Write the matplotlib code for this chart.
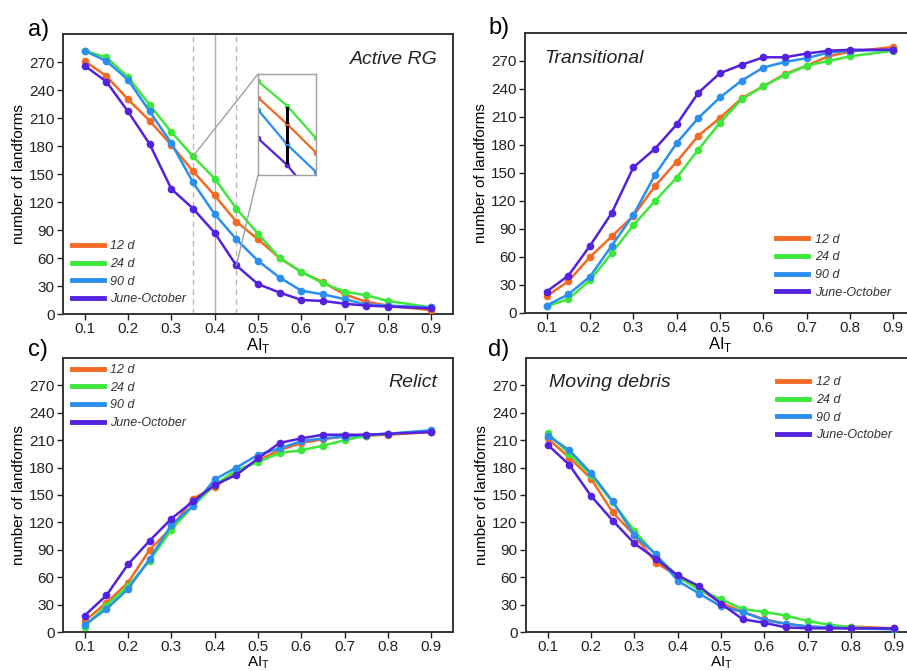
import numpy as np
import matplotlib
matplotlib.use("Agg")
import matplotlib.pyplot as plt
from matplotlib.patches import ConnectionPatch

plt.rcParams['font.family'] = ['Liberation Sans', 'DejaVu Sans']

# AI_T thresholds
ai_t = [0.1, 0.15, 0.2, 0.25, 0.3, 0.35, 0.4, 0.45, 0.5, 0.55, 0.6, 0.65, 0.7, 0.75, 0.8, 0.9]
series_names = ['12 d', '24 d', '90 d', 'June-October']
colors = ['#f26a24', '#3ee83a', '#2b8ff0', '#5322e0']

# a) Active RG
active_12 = [271, 255, 230, 207, 181, 153, 127, 99, 80, 60, 45, 34, 21, 13, 9, 4]
active_24 = [282, 275, 254, 224, 195, 169, 145, 113, 86, 60, 45, 33, 24, 20, 14, 7]
active_90 = [282, 271, 251, 217, 183, 141, 107, 80, 57, 39, 25, 21, 16, 10, 9, 7]
active_jo = [266, 249, 217, 182, 134, 113, 87, 52, 32, 23, 15, 14, 11, 9, 8, 6]

# b) Transitional
trans_12 = [18, 34, 60, 82, 104, 136, 162, 190, 209, 230, 243, 256, 265, 275, 280, 285]
trans_24 = [7, 15, 35, 64, 94, 120, 145, 175, 204, 229, 243, 255, 265, 270, 275, 281]
trans_90 = [8, 20, 39, 72, 105, 148, 182, 209, 231, 249, 263, 269, 273, 279, 281, 282]
trans_jo = [23, 40, 72, 107, 156, 176, 202, 236, 257, 266, 274, 274, 278, 281, 282, 282]

# c) Relict
relict_12 = [12, 32, 54, 90, 114, 146, 159, 175, 188, 199, 207, 211, 214, 215, 216, 219]
relict_24 = [6, 29, 50, 78, 112, 138, 161, 177, 186, 196, 199, 204, 210, 215, 217, 220]
relict_90 = [8, 25, 47, 80, 117, 138, 167, 180, 194, 201, 209, 212, 214, 216, 217, 221]
relict_jo = [18, 40, 74, 100, 124, 143, 161, 172, 190, 207, 212, 216, 216, 216, 217, 219]

# d) Moving debris
debris_12 = [212, 191, 168, 131, 106, 76, 61, 47, 32, 22, 14, 9, 6, 5, 6, 4]
debris_24 = [218, 195, 172, 142, 111, 84, 61, 46, 36, 25, 22, 18, 12, 8, 5, 3]
debris_90 = [215, 199, 174, 143, 106, 85, 56, 42, 28, 22, 13, 9, 6, 5, 4, 3]
debris_jo = [205, 183, 149, 122, 97, 80, 62, 50, 31, 14, 10, 5, 4, 4, 4, 4]

panels = [
    ('a)', 'Active RG', [active_12, active_24, active_90, active_jo]),
    ('b)', 'Transitional', [trans_12, trans_24, trans_90, trans_jo]),
    ('c)', 'Relict', [relict_12, relict_24, relict_90, relict_jo]),
    ('d)', 'Moving debris', [debris_12, debris_24, debris_90, debris_jo]),
]

W, H = 907, 671
fig = plt.figure(figsize=(W / 100, H / 100), dpi=100)

# axes boxes in pixels: left, top, right, bottom
boxes = [(63, 34, 453, 314), (525, 33, 915, 313), (63, 358, 453, 632), (526, 358, 916, 632)]

# where the title and legend go for each panel
title_pos = [(0.96, 0.91, 'right'), (0.05, 0.91, 'left'), (0.96, 0.91, 'right'), (0.06, 0.91, 'left')]
legend_pos = [('lower left', (0.0, 0.0)), ('lower right', (0.96, 0.02)),
              ('upper left', (0.0, 1.01)), ('upper right', (0.96, 0.965))]
label_pos = [(28, 30), (488, 28), (28, 350), (488, 350)]

axes = []
for i, (tag, title, data) in enumerate(panels):
    l, t, r, b = boxes[i]
    ax = fig.add_axes([l / W, 1 - b / H, (r - l) / W, (b - t) / H])
    axes.append(ax)

    if i == 0:
        # threshold guides
        ax.axvline(0.4, color='#b0b0b0', lw=1.0, zorder=1)
        ax.axvline(0.35, color='#b8b8b8', lw=1.0, ls=(0, (4, 3)), zorder=1)
        ax.axvline(0.45, color='#b8b8b8', lw=1.0, ls=(0, (4, 3)), zorder=1)

    for vals, name, c in zip(data, series_names, colors):
        ax.plot(ai_t, vals, color=c, lw=1.8, marker='o', ms=4.5, label=name, zorder=3)

    ax.set_xlim(0.05, 0.95)
    ax.set_ylim(0, 300)
    ax.set_xticks([0.1, 0.2, 0.3, 0.4, 0.5, 0.6, 0.7, 0.8, 0.9])
    ax.set_yticks(np.arange(0, 271, 30))
    ax.tick_params(direction='out', length=4, width=1, labelsize=11, colors='#222222', pad=2)
    for s in ax.spines.values():
        s.set_color('#333333')
        s.set_linewidth(1.4)
    ax.set_ylabel('number of landforms', fontsize=11, labelpad=2)
    ax.set_xlabel(r'AI$_\mathregular{T}$', fontsize=12 if i < 2 else 11, labelpad=0)

    tx, ty, ha = title_pos[i]
    ax.text(tx, ty, title, transform=ax.transAxes, fontsize=14, style='italic',
            ha=ha, va='center', color='#222222')

    loc, anchor = legend_pos[i]
    leg = ax.legend(loc=loc, bbox_to_anchor=anchor, frameon=False, fontsize=9,
                    handlelength=2.6, handletextpad=0.5, labelspacing=0.45,
                    borderaxespad=0.3)
    for line in leg.get_lines():
        line.set_linewidth(3.5)
        line.set_marker('')
    for txt in leg.get_texts():
        txt.set_style('italic')
        txt.set_color('#333333')

    px, py = label_pos[i]
    fig.text(px / W, 1 - py / H, tag, fontsize=17, ha='left', va='center')

# zoomed inset around AI_T = 0.4 in panel a
ax = axes[0]
ins = ax.inset_axes([0.5, 0.496, 0.149, 0.361])
for vals, c in zip(panels[0][2], colors):
    ins.plot(ai_t, vals, color=c, lw=1.6, marker='o', ms=3)
ins.set_xlim(0.35, 0.45)
ins.set_ylim(77, 176)
ins.set_xticks([])
ins.set_yticks([])
for s in ins.spines.values():
    s.set_color('#a0a0a0')
    s.set_linewidth(1.0)

# spread between the four series at 0.4
at04 = sorted([d[6] for d in panels[0][2]], reverse=True)
for top, bot in zip(at04[:-1], at04[1:]):
    ins.plot([0.4, 0.4], [top - 2.5, bot + 2.5], color='black', lw=2.2, zorder=5)

for (xa, ya), (xb, yb) in [((0, 1), (0.35, active_24[5])), ((0, 0), (0.45, active_jo[7]))]:
    con = ConnectionPatch(xyA=(xa, ya), coordsA=ins.transAxes, xyB=(xb, yb),
                          coordsB=ax.transData, color='#a0a0a0', lw=1.0)
    fig.add_artist(con)

fig.savefig('out.png', dpi=100)
